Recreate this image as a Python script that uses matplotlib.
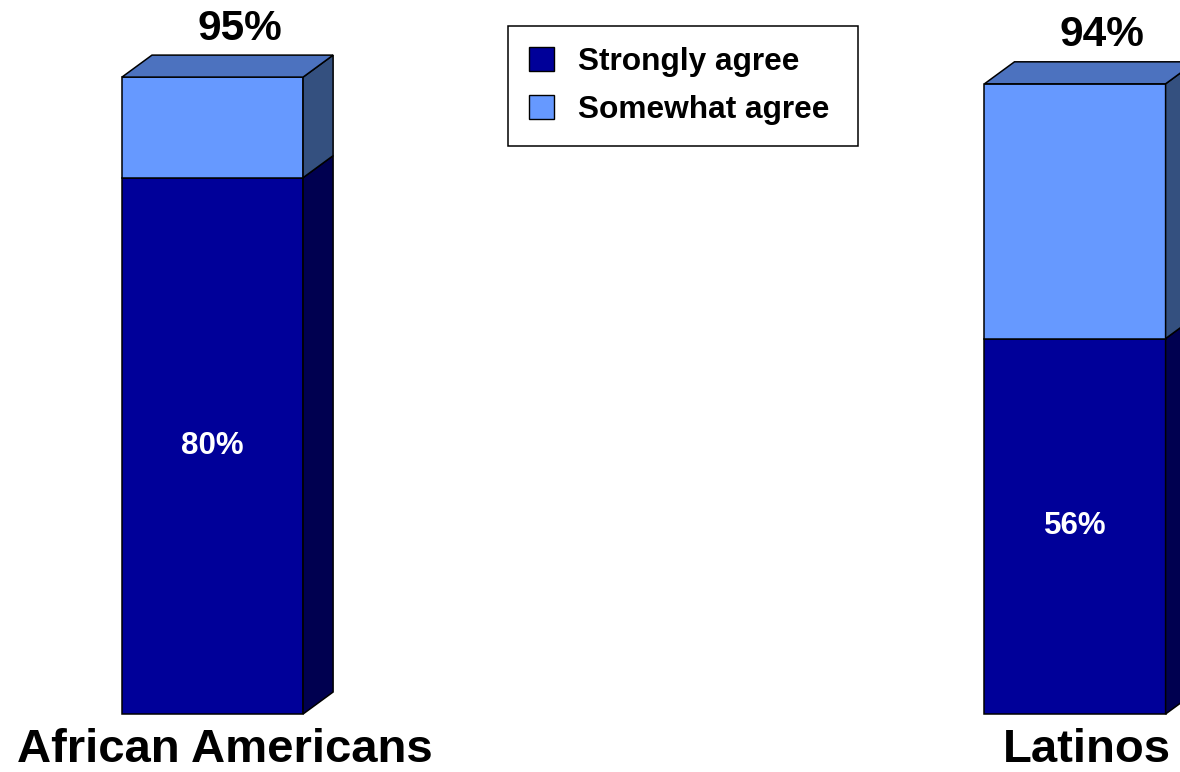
import matplotlib.pyplot as plt
from matplotlib.patches import Polygon, Patch

plt.rcParams['font.family'] = ['Liberation Sans', 'DejaVu Sans']
plt.rcParams['font.weight'] = 'bold'

# dados
groups = ['African Americans', 'Latinos']
strongly = [80, 56]
totals = [95, 94]
somewhat = [t - s for t, s in zip(totals, strongly)]

c_strong = '#000099'
c_strong_side = '#000050'
c_some = '#6699FF'
c_some_side = '#34507F'
c_top = '#4C72BF'

fig = plt.figure(figsize=(11.8, 7.72), dpi=100)
ax = fig.add_axes([0, 0, 1, 1])
ax.set_xlim(-0.2464, 1.1217)
ax.set_ylim(-8.65, 106.5)
ax.axis('off')

w = 0.21      # largura da face frontal
dx = 0.0348   # profundidade em x
dy = 3.28     # profundidade em y
lw = 1.1

for i, g in enumerate(groups):
    x0 = i - w / 2
    x1 = i + w / 2
    bottom = 0
    for val, front, side in [(strongly[i], c_strong, c_strong_side),
                             (somewhat[i], c_some, c_some_side)]:
        top = bottom + val
        ax.add_patch(Polygon([(x0, bottom), (x1, bottom), (x1, top), (x0, top)],
                             closed=True, facecolor=front, edgecolor='black', lw=lw))
        ax.add_patch(Polygon([(x1, bottom), (x1 + dx, bottom + dy), (x1 + dx, top + dy), (x1, top)],
                             closed=True, facecolor=side, edgecolor='black', lw=lw))
        bottom = top
    ax.add_patch(Polygon([(x0, totals[i]), (x0 + dx, totals[i] + dy),
                          (x1 + dx, totals[i] + dy), (x1, totals[i])],
                         closed=True, facecolor=c_top, edgecolor='black', lw=lw))

    # rótulos
    ax.text(i, strongly[i] / 2, f'{strongly[i]}%', color='white', fontsize=22.5,
            ha='center', va='center')
    ax.text(i + dx * 0.9, totals[i] + dy + 2.3, f'{totals[i]}%', color='black',
            fontsize=30.5, ha='center', va='baseline')
    ax.text(i + dx * 0.4, -7.15, g, color='black', fontsize=34,
            ha='center', va='baseline')

handles = [Patch(facecolor=c_strong, edgecolor='black', lw=1),
           Patch(facecolor=c_some, edgecolor='black', lw=1)]
leg = fig.legend(handles, ['Strongly agree', 'Somewhat agree'],
                 bbox_to_anchor=(508 / 1180, 1 - 142 / 772, 350 / 1180, 116 / 772),
                 loc='upper left', mode='expand', borderaxespad=0,
                 fontsize=22.8, handlelength=0.8, handleheight=0.8,
                 handletextpad=0.75, labelspacing=0.58, borderpad=0.65,
                 fancybox=False, framealpha=1)
leg.get_frame().set_edgecolor('black')
leg.get_frame().set_linewidth(1.1)

plt.savefig('out.png', dpi=100)
